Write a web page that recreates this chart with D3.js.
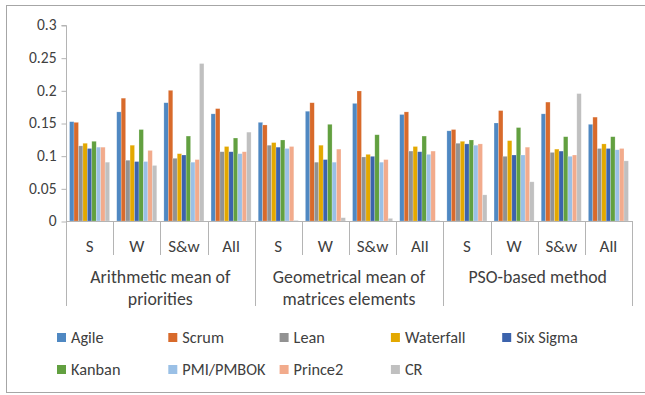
<!DOCTYPE html>
<html>
<head>
<meta charset="utf-8">
<script src="https://cdn.jsdelivr.net/npm/d3@7"></script>
<style>
  html, body { margin: 0; padding: 0; background: #fff; }
  svg text { font-family: Carlito, Calibri, Lato, "Open Sans", sans-serif; fill: #404040; }
</style>
</head>
<body>
<svg id="chart" width="645" height="395"></svg>
<script>
// Ranking methods (outer groups) and weighting schemes (inner categories)
const methods = [
  ["Arithmetic mean of", "priorities"],
  ["Geometrical mean of", "matrices elements"],
  ["PSO-based method"]
];
const schemes = ["S", "W", "S&w", "All"];

const seriesNames = ["Agile", "Scrum", "Lean", "Waterfall", "Six Sigma",
                     "Kanban", "PMI/PMBOK", "Prince2", "CR"];
const seriesColors = ["#4f88c2", "#d86a2b", "#929292", "#e3a800", "#3c63ac",
                      "#62a040", "#9ac0e6", "#f2ab8c", "#c0c0c0"];

// Values per series, in order: arithmetic S,W,S&w,All | geometric S,W,S&w,All | PSO S,W,S&w,All
const agile     = [0.152, 0.167, 0.181, 0.164, 0.151, 0.168, 0.180, 0.163, 0.138, 0.150, 0.164, 0.148];
const scrum     = [0.151, 0.188, 0.200, 0.172, 0.147, 0.181, 0.199, 0.167, 0.140, 0.169, 0.182, 0.159];
const lean      = [0.115, 0.093, 0.096, 0.106, 0.116, 0.090, 0.098, 0.107, 0.119, 0.099, 0.105, 0.111];
const waterfall = [0.119, 0.116, 0.103, 0.114, 0.120, 0.116, 0.102, 0.114, 0.122, 0.123, 0.110, 0.118];
const sixSigma  = [0.111, 0.091, 0.101, 0.106, 0.113, 0.094, 0.099, 0.106, 0.118, 0.101, 0.107, 0.111];
const kanban    = [0.122, 0.140, 0.130, 0.127, 0.124, 0.148, 0.132, 0.130, 0.124, 0.143, 0.129, 0.129];
const pmi       = [0.113, 0.091, 0.090, 0.103, 0.111, 0.090, 0.090, 0.102, 0.116, 0.101, 0.099, 0.109];
const prince2   = [0.113, 0.108, 0.094, 0.106, 0.114, 0.110, 0.094, 0.107, 0.118, 0.113, 0.101, 0.111];
const cr        = [0.090, 0.085, 0.241, 0.136, 0.001, 0.005, 0.004, 0.001, 0.040, 0.060, 0.195, 0.092];

const seriesValues = [agile, scrum, lean, waterfall, sixSigma, kanban, pmi, prince2, cr];
const yTicks = [0, 0.05, 0.1, 0.15, 0.2, 0.25, 0.3];
const yTickLabels = ["0", "0.05", "0.1", "0.15", "0.2", "0.25", "0.3"];

const svg = d3.select("#chart");
const axisColor = "#b4b4b4";

// Outer chart frame
svg.append("rect")
  .attr("x", 6.5).attr("y", 5.5)
  .attr("width", 660).attr("height", 387)
  .attr("fill", "#fff").attr("stroke", "#a6a6a6").attr("stroke-width", 1);

const plotLeft = 66, plotRight = 632, plotTop = 25, plotBottom = 221;

// Category keys: one per (method, scheme)
const categories = [];
methods.forEach((m, mi) => schemes.forEach((s, si) => categories.push(mi + "|" + si)));

const x0 = d3.scaleBand().domain(categories).range([plotLeft, plotRight]).padding(0);
const x1 = d3.scaleBand().domain(seriesNames).range([0, x0.bandwidth()])
  .paddingInner(0).paddingOuter(0.8);
const y = d3.scaleLinear().domain([0, 0.3]).range([plotBottom, plotTop]);

// Y axis
const yAxis = d3.axisLeft(y).tickValues(yTicks)
  .tickFormat((d, i) => yTickLabels[i]).tickSize(5).tickPadding(5);
const gy = svg.append("g").attr("transform", `translate(${plotLeft + 0.5},0)`).call(yAxis);
gy.select(".domain").attr("stroke", axisColor).attr("d", `M-5,${y(0.3) + 0.5}H0V${plotBottom + 0.5}`);
gy.selectAll(".tick line").attr("stroke", axisColor).attr("transform", "translate(0,0.5)");
gy.selectAll(".tick text").attr("font-size", 15.5).attr("fill", "#404040")
  .attr("font-family", "Carlito, Calibri, Lato, sans-serif");

// Bars
const cat = svg.append("g").selectAll("g").data(categories).join("g")
  .attr("transform", d => `translate(${x0(d)},0)`);
cat.selectAll("rect")
  .data((d, ci) => seriesNames.map((n, si) => ({ n, si, v: seriesValues[si][ci] })))
  .join("rect")
  .attr("x", d => x1(d.n))
  .attr("width", x1.bandwidth())
  .attr("y", d => y(d.v))
  .attr("height", d => y(0) - y(d.v))
  .attr("fill", d => seriesColors[d.si])
  .attr("stroke", "#ffffff").attr("stroke-opacity", 0.35).attr("stroke-width", 0.6);

// Horizontal baseline
svg.append("line")
  .attr("x1", plotLeft).attr("x2", plotRight)
  .attr("y1", plotBottom + 0.5).attr("y2", plotBottom + 0.5)
  .attr("stroke", axisColor);

// Multi-level category axis: inner separators and group separators
categories.forEach((c, i) => {
  const xs = Math.round(x0(c)) + 0.5;
  const isGroupEdge = i % schemes.length === 0;
  svg.append("line")
    .attr("x1", xs).attr("x2", xs)
    .attr("y1", plotBottom).attr("y2", isGroupEdge ? 306 : 255)
    .attr("stroke", axisColor);
});
svg.append("line")
  .attr("x1", plotRight + 0.5).attr("x2", plotRight + 0.5)
  .attr("y1", plotBottom).attr("y2", 306)
  .attr("stroke", axisColor);

// Scheme labels
svg.append("g").selectAll("text").data(categories).join("text")
  .attr("x", d => x0(d) + x0.bandwidth() / 2)
  .attr("y", 252)
  .attr("text-anchor", "middle")
  .attr("font-size", 17)
  .text(d => schemes[+d.split("|")[1]]);

// Method labels (possibly two lines)
methods.forEach((lines, mi) => {
  const cx = x0(mi + "|0") + x0.bandwidth() * schemes.length / 2;
  lines.forEach((t, li) => {
    svg.append("text")
      .attr("x", cx).attr("y", 283 + li * 21.5)
      .attr("text-anchor", "middle")
      .attr("font-size", 17.8)
      .text(t);
  });
});

// Legend: 5 columns, two rows
const legendCols = 5, colW = 111.3, legX = 57, legY = [333, 365];
const leg = svg.append("g").selectAll("g").data(seriesNames).join("g")
  .attr("transform", (d, i) => `translate(${legX + (i % legendCols) * colW},${legY[Math.floor(i / legendCols)]})`);
leg.append("rect").attr("width", 9).attr("height", 9)
  .attr("fill", (d, i) => seriesColors[i]);
leg.append("text").attr("x", 14).attr("y", 9.5)
  .attr("font-size", 16.3)
  .text(d => d);
</script>
</body>
</html>
